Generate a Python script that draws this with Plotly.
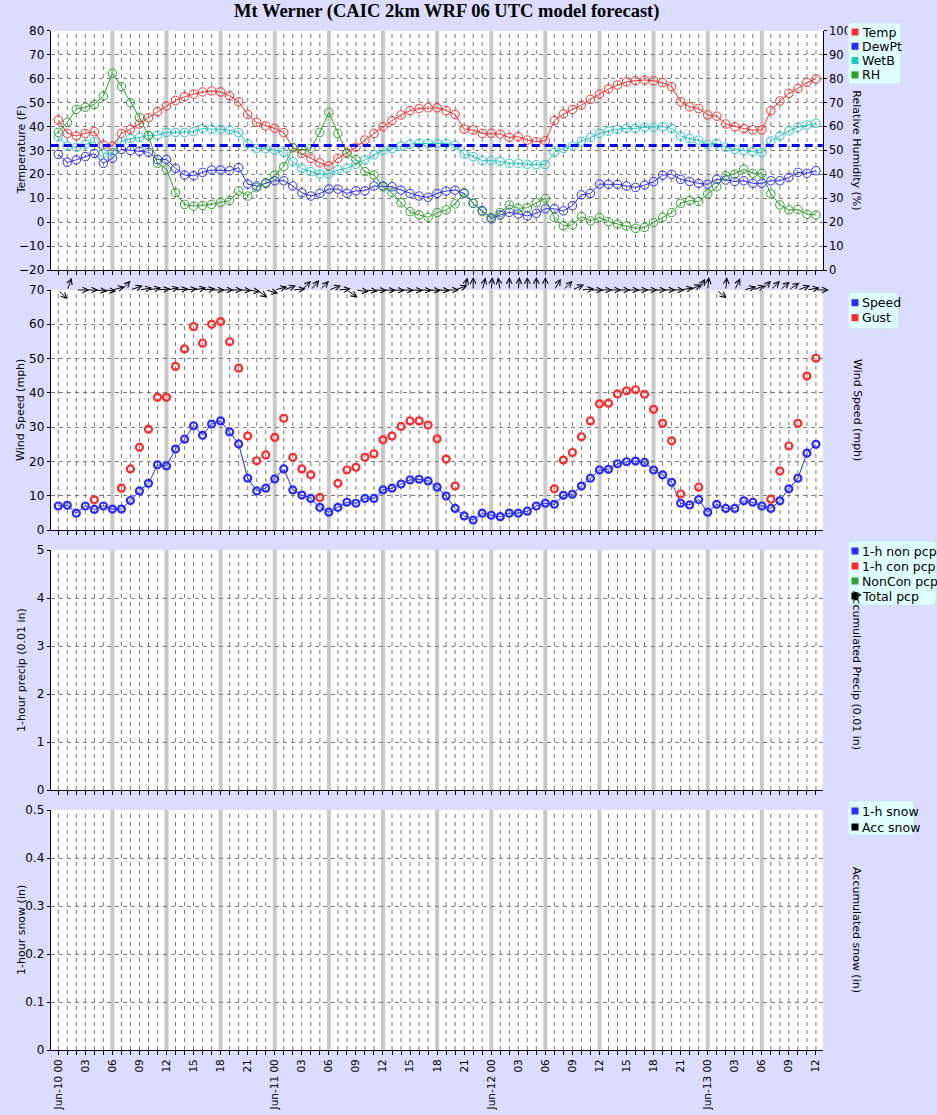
import math
import plotly.graph_objects as go

W, H = 937, 1115

# ---------------- data ----------------
hours = list(range(85))  # hours since Jun-10 00 UTC

temp = [42.7, 37.1, 36.0, 37.1, 37.8, 32.2, 31.8, 37.1, 38.8, 41.0, 43.6, 46.2, 48.5, 50.9, 52.4, 53.5,
        54.4, 54.8, 54.4, 52.8, 50.3, 45.0, 41.7, 40.2, 39.2, 37.4, 31.1, 28.7, 26.7, 24.8, 23.5, 26.7,
        29.0, 31.3, 34.3, 37.1, 39.9, 42.4, 44.8, 46.6, 47.5, 47.8, 47.8, 46.6, 45.0, 38.9, 38.5, 37.1,
        37.1, 36.8, 35.4, 35.7, 34.3, 33.6, 34.0, 42.4, 45.2, 47.1, 48.9, 51.3, 53.5, 55.7, 57.3, 58.6,
        59.1, 59.4, 59.1, 58.3, 56.6, 50.3, 48.2, 47.5, 44.8, 44.3, 41.0, 39.9, 39.1, 38.5, 38.5, 46.6,
        50.6, 53.8, 55.9, 58.4, 59.8]
dewpt = [28.3, 25.0, 26.0, 27.4, 28.7, 24.6, 26.7, 30.4, 29.9, 29.6, 29.2, 26.2, 26.2, 22.5, 19.7, 19.4,
         20.8, 21.8, 21.8, 21.5, 22.8, 15.9, 15.1, 16.2, 17.3, 17.3, 15.1, 12.3, 10.9, 12.0, 13.8, 13.8,
         12.0, 13.1, 13.1, 15.1, 15.1, 14.8, 13.4, 12.0, 10.9, 10.4, 12.0, 13.0, 13.4, 12.0, 7.9, 4.8,
         1.4, 3.0, 4.1, 3.4, 2.6, 3.7, 5.6, 5.6, 4.7, 6.9, 11.4, 12.0, 15.9, 15.8, 15.8, 15.1,
         14.5, 15.5, 16.9, 19.6, 20.0, 17.9, 17.0, 16.2, 15.8, 17.9, 17.6, 17.0, 17.3, 16.2, 16.2, 17.3,
         17.3, 18.7, 20.8, 20.4, 21.5]
wetb = [35.7, 31.8, 31.3, 32.6, 33.6, 28.7, 29.0, 33.6, 34.9, 35.4, 36.3, 36.3, 37.5, 37.5, 37.5, 37.8,
        39.1, 38.8, 38.8, 38.5, 37.4, 32.9, 30.8, 30.7, 30.1, 29.2, 25.3, 22.5, 21.1, 20.1, 20.1, 21.8,
        22.5, 24.2, 26.0, 28.1, 29.9, 30.8, 31.8, 32.6, 32.9, 32.9, 32.9, 32.9, 32.2, 28.5, 27.4, 25.7,
        25.7, 25.4, 24.6, 24.6, 24.2, 24.0, 24.0, 29.2, 30.8, 31.8, 33.8, 35.4, 37.1, 38.0, 38.8, 39.2,
        39.2, 39.6, 39.6, 39.9, 39.2, 36.0, 34.9, 34.3, 32.5, 32.9, 31.3, 30.4, 29.9, 29.4, 29.0, 33.9,
        36.0, 38.1, 39.6, 40.6, 41.3]
rh = [57.5, 61.7, 67.1, 68.0, 69.2, 72.7, 82.2, 76.6, 69.9, 63.8, 56.1, 44.6, 42.1, 32.3, 27.4, 26.7,
      27.0, 27.4, 28.3, 29.0, 33.1, 30.9, 34.4, 36.5, 39.7, 43.2, 51.1, 50.1, 50.8, 57.5, 65.9, 57.1,
      48.7, 46.2, 41.1, 39.7, 34.8, 32.3, 28.1, 24.4, 23.0, 22.0, 24.0, 25.1, 27.6, 32.3, 27.9, 24.4,
      22.0, 24.0, 27.2, 25.8, 26.0, 28.1, 29.9, 22.0, 18.5, 18.8, 22.3, 20.5, 22.0, 20.2, 19.2, 18.4,
      17.4, 17.8, 19.8, 22.0, 24.0, 27.9, 29.0, 28.6, 31.8, 34.8, 39.4, 40.1, 42.2, 40.4, 40.4, 31.8,
      27.2, 25.1, 25.3, 23.3, 23.0]
speed = [7.0, 7.2, 4.9, 7.0, 6.0, 7.0, 6.1, 6.1, 8.6, 11.4, 13.6, 19.0, 18.7, 23.6, 26.5, 30.4,
         27.6, 30.9, 31.8, 28.6, 25.1, 15.1, 11.4, 12.2, 14.9, 17.8, 11.7, 10.2, 9.2, 6.6, 5.2, 6.6,
         8.1, 7.8, 9.2, 9.2, 11.7, 12.2, 13.4, 14.6, 14.8, 14.3, 12.5, 9.9, 6.3, 4.1, 2.9, 4.9,
         4.3, 3.9, 4.9, 4.9, 5.5, 7.0, 7.8, 7.5, 10.1, 10.4, 12.8, 15.1, 17.5, 17.7, 19.3, 19.9,
         20.1, 19.7, 17.5, 16.1, 13.9, 7.8, 7.3, 8.9, 5.2, 7.5, 6.3, 6.3, 8.5, 8.1, 7.0, 6.3,
         8.5, 12.0, 15.1, 22.4, 25.0]
gust = [None, None, None, None, 8.8, None, None, 12.2, 17.8, 24.1, 29.4, 38.7, 38.7, 47.7, 52.8, 59.3,
        54.5, 60.0, 60.8, 54.9, 47.2, 27.4, 20.2, 21.9, 27.0, 32.6, 21.2, 17.8, 16.1, 9.5, None, 13.6,
        17.5, 18.3, 21.2, 22.2, 26.3, 27.4, 30.2, 31.8, 31.8, 30.6, 26.6, 20.7, 12.8, None, None, None,
        None, None, None, None, None, None, None, 12.0, 20.4, 22.6, 27.2, 31.8, 36.8, 37.0, 39.7, 40.6,
        40.9, 39.6, 35.2, 31.1, 26.0, 10.5, None, 12.5, None, None, None, None, None, None, None, 9.0,
        17.2, 24.5, 31.1, 44.9, 50.1]
# wind direction (degrees, direction the wind blows FROM)
wdir = [315, 200, 270, 270, 275, 275, 255, 225, 250, 260, 260, 265, 260, 265, 265, 260,
        265, 270, 270, 270, 272, 278, 305, 285, 255, 250, 265, 225, 220, 225, 250, 265,
        305, 278, 275, 272, 272, 272, 272, 272, 272, 272, 272, 270, 250, 195, 180, 195,
        185, 170, 180, 185, 180, 180, 180, 210, 225, 245, 265, 270, 270, 270, 270, 270,
        270, 270, 270, 270, 270, 260, 245, 210, 185, 310, 185, 205, 255, 250, 225, 225,
        230, 235, 250, 260, 270]
# precipitation / snow series (no values forecast)
precip_nonconv = []
precip_conv = []
precip_noncon_acc = []
precip_total = []
snow_1h = []
snow_acc = []

tick_hours = list(range(0, 85, 3))
tick_text = [("Jun-%02d 00" % (10 + h // 24)) if h % 24 == 0 else "%02d" % (h % 24) for h in tick_hours]

# ---------------- layout helpers ----------------
FONT = "DejaVu Sans"
XR = [-0.84, 84.75]
X0, X1 = 50.7, 822.7
panels = [(30.7, 270.0), (290.0, 530.0), (550.0, 790.0), (810.0, 1050.0)]


def fx(px):
    return px / W


def fy(py):
    return 1 - py / H


YGRID = dict(showgrid=True, gridcolor="#7a7a7a", gridwidth=1, griddash="4px,4px")

fig = go.Figure()

RED, BLUE, CYAN, GREEN = "#ff2a2a", "#2a2aff", "#1ec8c8", "#2ea02e"


def line_trace(y, name, col, xa, ya, size=8.5, lw=1):
    return go.Scatter(x=hours, y=y, mode="lines+markers", name=name, xaxis=xa, yaxis=ya,
                      line=dict(color=col, width=1),
                      marker=dict(symbol="circle-open", size=size, color=col, line=dict(width=lw)))


# panel 1
fig.add_trace(line_trace(temp, "Temp", RED, "x", "y"))
fig.add_trace(line_trace(dewpt, "DewPt", BLUE, "x", "y"))
fig.add_trace(line_trace(wetb, "WetB", CYAN, "x", "y"))
fig.add_trace(line_trace(rh, "RH", GREEN, "x", "y2"))
# panel 2
fig.add_trace(line_trace(speed, "Speed", BLUE, "x2", "y3", size=7, lw=2.2))
fig.add_trace(go.Scatter(x=hours, y=gust, mode="markers", name="Gust", xaxis="x2", yaxis="y3",
                         marker=dict(symbol="circle-open", size=7, color=RED, line=dict(width=2.2))))
# panel 3
for nm, arr, col in [("1-h non pcp", precip_nonconv, BLUE), ("1-h con pcp", precip_conv, RED),
                     ("NonCon pcp", precip_noncon_acc, GREEN), ("Total pcp", precip_total, "black")]:
    fig.add_trace(go.Scatter(x=hours[:len(arr)], y=arr, mode="lines+markers", name=nm, xaxis="x3", yaxis="y5",
                             line=dict(color=col, width=1), marker=dict(symbol="circle-open", color=col)))
# panel 4
for nm, arr, col in [("1-h snow", snow_1h, BLUE), ("Acc snow", snow_acc, "black")]:
    fig.add_trace(go.Scatter(x=hours[:len(arr)], y=arr, mode="lines+markers", name=nm, xaxis="x4", yaxis="y7",
                             line=dict(color=col, width=1), marker=dict(symbol="circle-open", color=col)))

layout = dict(width=W, height=H, margin=dict(l=0, r=0, t=0, b=0, pad=0, autoexpand=False), showlegend=False,
              paper_bgcolor="#dcdcff", plot_bgcolor="white",
              font=dict(family=FONT, size=12, color="black"))

xnames = ["xaxis", "xaxis2", "xaxis3", "xaxis4"]
ylefts = ["y", "y3", "y5", "y7"]
for i, xn in enumerate(xnames):
    layout[xn] = dict(domain=[fx(X0), fx(X1)], range=XR, anchor=ylefts[i], automargin=False,
                      tickmode="array", tickvals=hours,
                      ticktext=[tick_text[tick_hours.index(h)] if h in tick_hours else "" for h in hours],
                      showticklabels=(i == 3), tickangle=-90, tickfont=dict(size=10.5),
                      ticks="outside", ticklen=4, tickcolor="black",
                      showline=True, linecolor="black", linewidth=1, zeroline=False, showgrid=False)
    if i > 0:
        layout[xn]["matches"] = "x"

yspecs = [([-20, 80], 10, [0, 100], 10), ([0, 70], 10, [0, 70], 10), ([0, 5], 1, [0, 5], 1),
          ([0, 0.5], 0.1, [0, 0.5], 0.1)]
for i, (rl, dl, rr, dr) in enumerate(yspecs):
    top, bot = panels[i]
    dom = [fy(bot), fy(top)]
    ln = "yaxis" if i == 0 else "yaxis%d" % (2 * i + 1)
    rn = "yaxis%d" % (2 * i + 2)
    xa = "x" if i == 0 else "x%d" % (i + 1)
    layout[ln] = dict(domain=dom, range=rl, dtick=dl, tick0=0, anchor=xa, ticks="outside", ticklen=3,
                      automargin=False,
                      tickcolor="black", showline=True, linecolor="black", zeroline=False, **YGRID)
    layout[rn] = dict(range=rr, dtick=dr, tick0=0, anchor=xa, overlaying=ylefts[i], side="right",
                      automargin=False, tickfont=dict(size=11.5),
                      ticks="outside", ticklen=3, tickcolor="black", showline=True, linecolor="black",
                      showgrid=False, zeroline=False)
fig.update_layout(**layout)

shapes = []
# hourly dashed verticals and six-hourly grey bars
for i in range(4):
    xa = "x" if i == 0 else "x%d" % (i + 1)
    yd = ylefts[i] + " domain"
    for h in hours:
        if h % 6 == 0 and 0 < h < hours[-1]:
            continue
        shapes.append(dict(type="line", xref=xa, yref=yd, x0=h, x1=h, y0=0, y1=1,
                           line=dict(color="#7a7a7a", width=1, dash="4px,4px"), layer="below"))
    for h in hours:
        if h % 6 == 0 and 0 < h < hours[-1]:
            shapes.append(dict(type="line", xref=xa, yref=yd, x0=h, x1=h, y0=0, y1=1,
                               line=dict(color="#c8c8c8", width=4), layer="below"))

# freezing line
shapes.append(dict(type="line", xref="x domain", yref="y", x0=0, x1=1, y0=32, y1=32,
                   line=dict(color="#0000ff", width=3, dash="8px,5px"), layer="above"))

annotations = []
# wind direction arrows on top of wind panel
PXH = (X1 - X0) / (XR[1] - XR[0])
PXW = (panels[1][1] - panels[1][0]) / 70.0
L = 13.0
for h, d in zip(hours, wdir):
    ux = -math.sin(math.radians(d))
    uy = -math.cos(math.radians(d))
    annotations.append(dict(xref="x2", yref="y3", axref="x2", ayref="y3", ax=h, ay=70,
                            x=h + L * ux / PXH, y=70 + L * uy / PXW, text="", showarrow=True,
                            arrowhead=5, arrowsize=1.1, arrowwidth=1, arrowcolor="black", standoff=0))

# axis titles
titles = [("Temperature (F)", "Relative Humidity (%)"), ("Wind Speed (mph)", "Wind Speed (mph)"),
          ("1-hour precip (0.01 in)", "Accumulated Precip (0.01 in)"),
          ("1-hour snow (in)", "Accumulated snow (in)")]
for i, (lt, rt) in enumerate(titles):
    top, bot = panels[i]
    yc = fy((top + bot) / 2)
    annotations.append(dict(xref="paper", yref="paper", x=fx(21), y=yc, text=lt, showarrow=False,
                            textangle=-90, font=dict(size=11), xanchor="center", yanchor="middle"))
    annotations.append(dict(xref="paper", yref="paper", x=fx(857), y=yc, text=rt, showarrow=False,
                            textangle=90, font=dict(size=11), xanchor="center", yanchor="middle"))

# title
annotations.append(dict(xref="paper", yref="paper", x=fx(446), y=fy(12),
                        text="<b>Mt Werner (CAIC 2km WRF 06 UTC model forecast)</b>",
                        showarrow=False, font=dict(family="Liberation Serif", size=18.5), xanchor="center",
                        yanchor="middle"))

# legends (manual boxes)
legends = [((848, 22.7, 900.7, 84), [("Temp", RED), ("DewPt", BLUE), ("WetB", CYAN), ("RH", GREEN)], 32, 14.3),
           ((848, 292.7, 898.3, 328.7), [("Speed", BLUE), ("Gust", RED)], 302.7, 15),
           ((848, 541, 936, 605), [("1-h non pcp", BLUE), ("1-h con pcp", RED), ("NonCon pcp", GREEN),
                                   ("Total pcp", "black")], 551, 15),
           ((848, 801, 914, 835), [("1-h snow", BLUE), ("Acc snow", "black")], 811, 16)]


def rounded(x0, y0, x1, y1, r=4):
    X = fx
    Y = fy
    p = "M %f,%f L %f,%f Q %f,%f %f,%f L %f,%f Q %f,%f %f,%f L %f,%f Q %f,%f %f,%f L %f,%f Q %f,%f %f,%f Z" % (
        X(x0 + r), Y(y0), X(x1 - r), Y(y0), X(x1), Y(y0), X(x1), Y(y0 + r),
        X(x1), Y(y1 - r), X(x1), Y(y1), X(x1 - r), Y(y1),
        X(x0 + r), Y(y1), X(x0), Y(y1), X(x0), Y(y1 - r),
        X(x0), Y(y0 + r), X(x0), Y(y0), X(x0 + r), Y(y0))
    return p


for (bx0, by0, bx1, by1), items, ystart, step in legends:
    shapes.append(dict(type="path", xref="paper", yref="paper", path=rounded(bx0, by0, bx1, by1),
                       fillcolor="#e0ffff", line=dict(color="#c8e8f0", width=1), layer="above"))
    for k, (nm, col) in enumerate(items):
        yy = ystart + k * step
        shapes.append(dict(type="rect", xref="paper", yref="paper", x0=fx(851.5), x1=fx(858.5), y0=fy(yy - 3.5),
                           y1=fy(yy + 3.5), fillcolor=col, line=dict(width=0), layer="above"))
        annotations.append(dict(xref="paper", yref="paper", x=fx(860), y=fy(yy), text=nm, showarrow=False,
                                xanchor="left", yanchor="middle", font=dict(size=12.5)))

fig.update_layout(shapes=shapes, annotations=annotations)
fig.write_html("out.html")
